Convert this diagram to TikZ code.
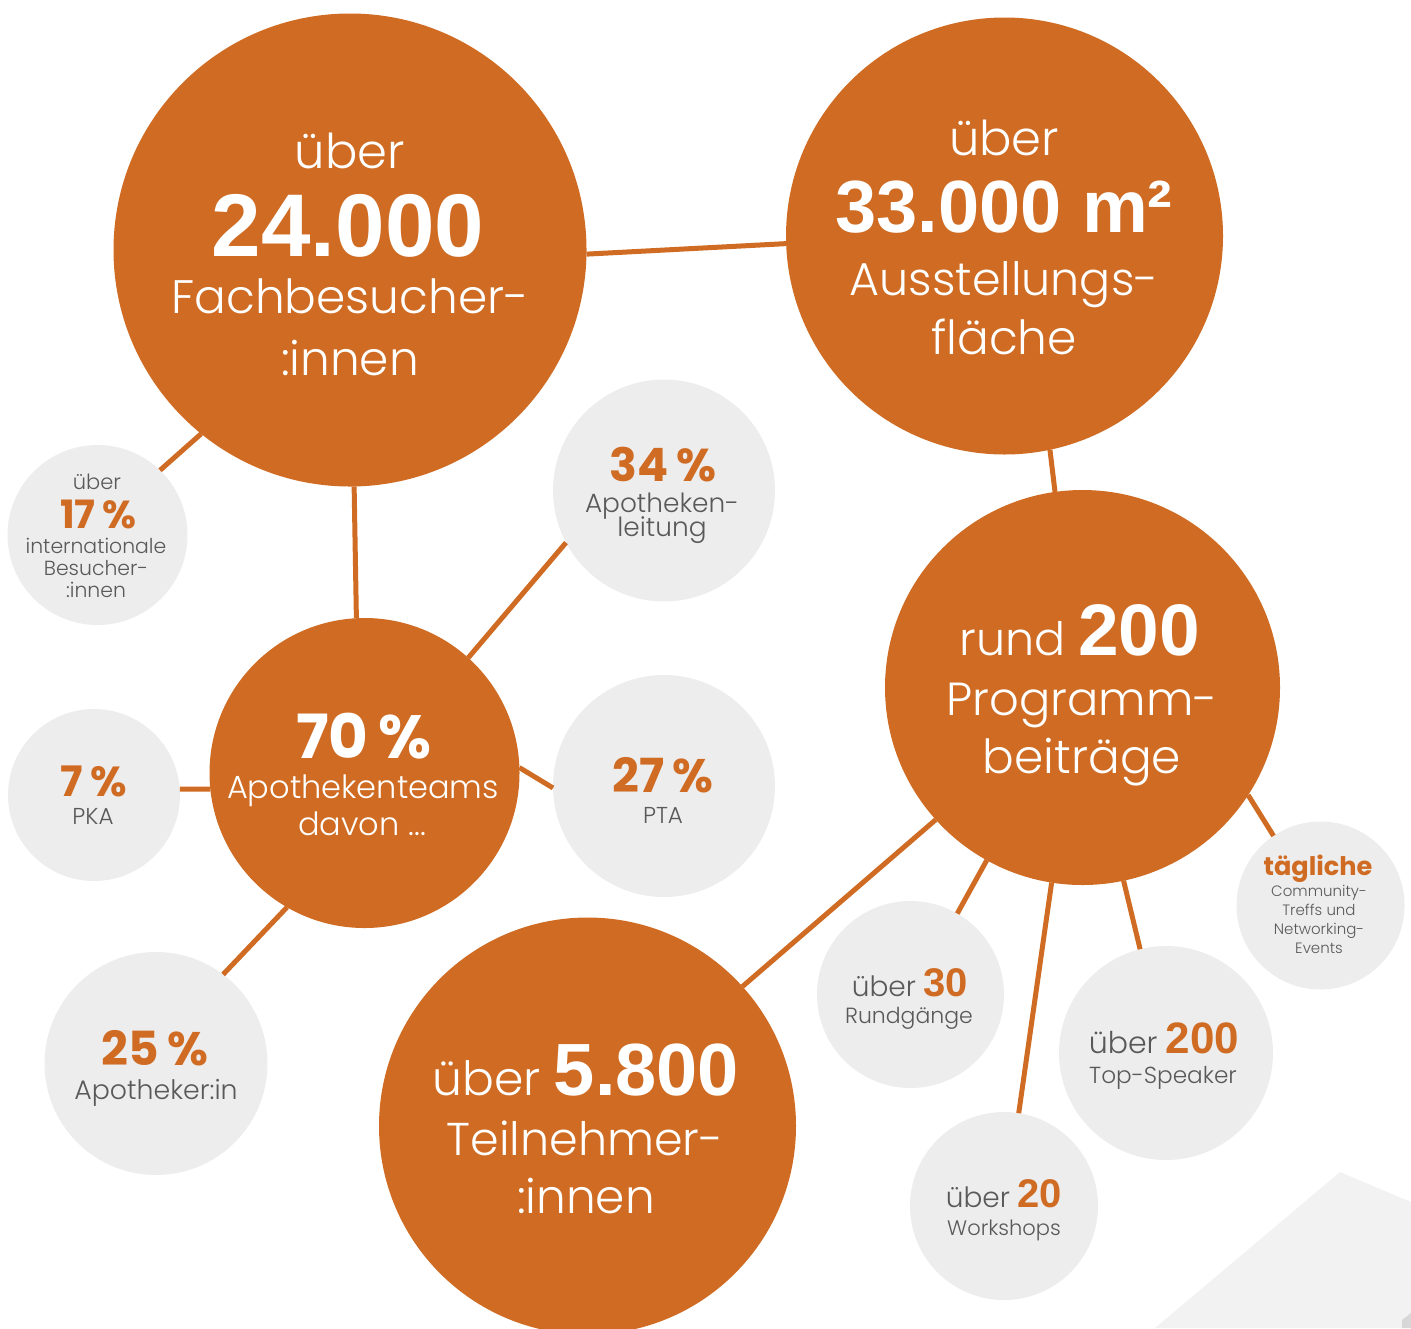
\documentclass[tikz,border=0pt]{standalone}
\usepackage{fontspec}
\setmainfont{Poppins}[UprightFont={* Light}, BoldFont={* Bold}]
\newfontfamily\numfont{Liberation Sans}
\definecolor{orng}{HTML}{CF6B22}
\definecolor{lgrey}{HTML}{EDEDED}
\definecolor{tgrey}{HTML}{595959}
\definecolor{faint}{HTML}{F2F2F2}
\newcommand\fsz[1]{\fontsize{#1}{#1}\selectfont}
\newcommand\bignum[2]{{\numfont\bfseries\fsz{#1}#2}}
\newcommand\pct[2]{{\bfseries\fsz{#1}#2}}
\tikzset{
  bigc/.style={circle, fill=orng, draw=none, inner sep=0pt, outer sep=0pt, minimum size=#1pt},
  smallc/.style={circle, fill=lgrey, draw=none, inner sep=0pt, outer sep=0pt, minimum size=#1pt},
  link/.style={draw=orng, line width=2.5pt},
  wt/.style={text=white, anchor=base, inner sep=0pt, outer sep=0pt},
  gt/.style={text=tgrey, anchor=base, inner sep=0pt, outer sep=0pt},
  ot/.style={text=orng, anchor=base, inner sep=0pt, outer sep=0pt, text depth=0pt},
}
\begin{document}
\begin{tikzpicture}[x=0.5pt,y=-0.5pt]
\useasboundingbox (0,0) rectangle (1411,1328);
\clip (0,0) rectangle (1411,1328);
% faint background shape
\fill[faint] (1155,1328) -- (1340,1172) -- (1411,1202) -- (1411,1328) -- cycle;
\fill[lgrey!80!gray] (1402,1320) -- (1411,1313) -- (1411,1328) -- (1402,1328) -- cycle;

% big circles
\node[bigc=236.5] (fach)  at (350,250) {};
\node[bigc=218.5] (ausst) at (1004.5,236) {};
\node[bigc=197.5] (prog)  at (1082.5,687.5) {};
\node[bigc=208.5] (teiln) at (587.5,1126) {};
\node[bigc=155]   (apo)   at (364.5,773) {};
% small circles
\node[smallc=90]    (intl)  at (97.5,535) {};
\node[smallc=111]   (leit)  at (664,490.5) {};
\node[smallc=86]    (pka)   at (94,795) {};
\node[smallc=111]   (pta)   at (664,786) {};
\node[smallc=111.5] (apoin) at (156,1063.5) {};
\node[smallc=93.5]  (rund)  at (910.5,994.5) {};
\node[smallc=107]   (speak) at (1166,1053) {};
\node[smallc=94]    (work)  at (1004,1206) {};
\node[smallc=84]    (tagl)  at (1320.5,905.5) {};

% connectors
\draw[link] (fach.-1) -- (ausst.182);
\draw[link] (fach.-89) -- (apo.93);
\draw[link] (fach.-129) -- (intl.46);
\draw[link] (ausst.-78.5) -- (prog.98);
\draw[link] (apo.48) -- (leit.-152.5);
\draw[link] (apo.2) -- (pta.181);
\draw[link] (apo.186) -- (pka.4);
\draw[link] (apo.-120) -- (apoin.53);
\draw[link] (prog.-138.7) -- (teiln.42.8);
\draw[link] (prog.-119.3) -- (rund.60.2);
\draw[link] (prog.-99.2) -- (work.81.5);
\draw[link] (prog.-78.9) -- (speak.104.9);
\draw[link] (prog.-33.4) -- (tagl.124.8);

% texts: Fachbesucher
\node[wt] (fach1) at (350,168) {\fsz{24}über};
\node[wt] (fach2) at (348,256) {\bignum{44.5}{24.000}};
\node[wt] (fach3) at (350,313) {\fsz{23.5}Fachbesucher-};
\node[wt] (fach4) at (350,375) {\fsz{23.5}:innen};
% Ausstellungsflaeche
\node[wt] (ausst1) at (1004,155) {\fsz{24}über};
\node[wt] (ausst2) at (1004,232) {\bignum{37}{33.000 m²}};
\node[wt] (ausst3) at (1004,295) {\fsz{23}Ausstellungs-};
\node[wt] (ausst4) at (1004,354) {\fsz{23.5}fläche};
% Programmbeitraege
\node[wt] (prog1) at (1080,655) {\fsz{23}rund \bignum{36.5}{200}};
\node[wt] (prog2) at (1082,715) {\fsz{23.2}Programm-};
\node[wt] (prog3) at (1082,773) {\fsz{23.5}beiträge};
% Teilnehmer
\node[wt] (teiln1) at (586,1095) {\fsz{23.6}über \bignum{37}{5.800}};
\node[wt] (teiln2) at (585,1155) {\fsz{23}Teilnehmer-};
\node[wt] (teiln3) at (586,1213) {\fsz{23.5}:innen};
% Apothekenteams
\node[wt] (apo1) at (364,758) {\pct{30.5}{70\,\%}};
\node[wt] (apo2) at (363,798) {\fsz{16}Apothekenteams};
\node[wt] (apo3) at (362,835) {\fsz{16}davon ...};
% international
\node[gt] (intl1) at (97,489) {\fsz{10.5}über};
\node[ot] (intl2) at (98,528) {\pct{19.5}{17\,\%}};
\node[gt] (intl3) at (96,553) {\fsz{10.2}internationale};
\node[gt] (intl4) at (96,575) {\fsz{10.2}Besucher-};
\node[gt] (intl5) at (96,597) {\fsz{10.2}:innen};
% Apothekenleitung
\node[ot] (leit1) at (663,481) {\pct{23}{34\,\%}};
\node[gt] (leit2) at (662,512) {\fsz{13.2}Apotheken-};
\node[gt] (leit3) at (662,536) {\fsz{13.2}leitung};
% PKA
\node[ot] (pka1) at (94,796) {\pct{21}{7\,\%}};
\node[gt] (pka2) at (93,824) {\fsz{11.5}PKA};
% PTA
\node[ot] (pta1) at (663,792) {\pct{23.5}{27\,\%}};
\node[gt] (pta2) at (663,823) {\fsz{11.5}PTA};
% Apotheker:in
\node[ot] (apoin1) at (155,1065) {\pct{23.5}{25\,\%}};
\node[gt] (apoin2) at (156,1099) {\fsz{13.4}Apotheker:in};
% Rundgaenge
\node[gt] (rund1) at (910,996) {\fsz{14}über \textcolor{orng}{\bignum{20}{30}}};
\node[gt] (rund2) at (909,1023) {\fsz{11}Rundgänge};
% Top-Speaker
\node[gt] (speak1) at (1164,1053) {\fsz{15}über \textcolor{orng}{\bignum{22}{200}}};
\node[gt] (speak2) at (1163,1083) {\fsz{11.6}Top-Speaker};
% Workshops
\node[gt] (work1) at (1004,1207) {\fsz{14}über \textcolor{orng}{\bignum{20}{20}}};
\node[gt] (work2) at (1004,1235) {\fsz{10.5}Workshops};
% taegliche
\node[ot] (tagl1) at (1318,875) {\pct{12.8}{tägliche}};
\node[gt] (tagl2) at (1319,896) {\fsz{7.5}Community-};
\node[gt] (tagl3) at (1319,915) {\fsz{7.5}Treffs und};
\node[gt] (tagl4) at (1319,934) {\fsz{7.5}Networking-};
\node[gt] (tagl5) at (1319,953) {\fsz{7.5}Events};
\end{tikzpicture}
\end{document}
